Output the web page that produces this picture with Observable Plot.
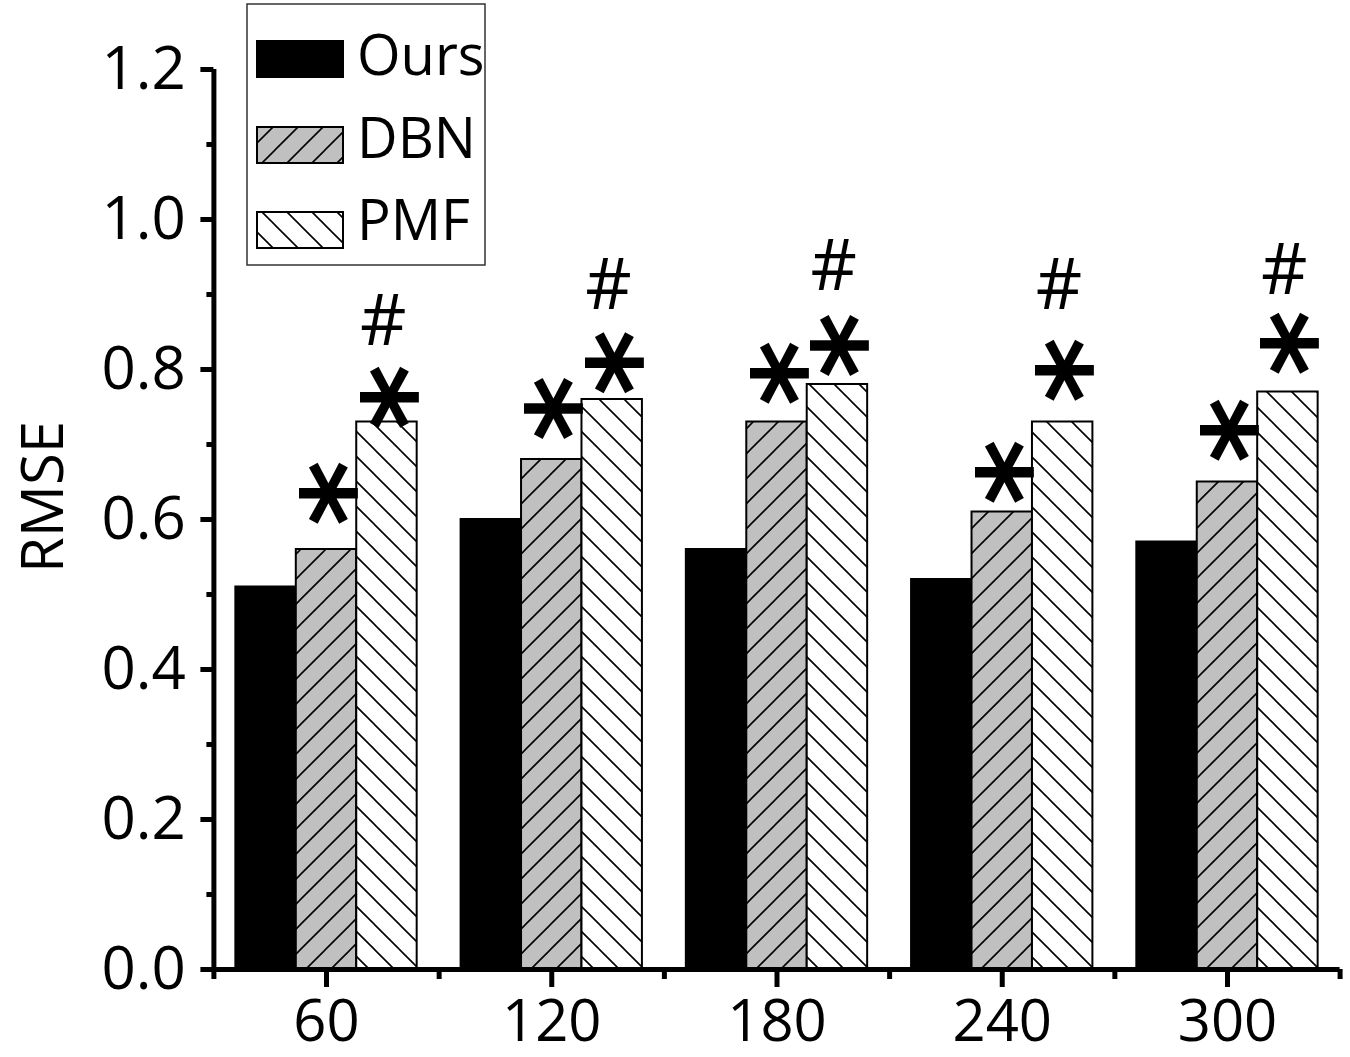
<!DOCTYPE html>
<html><head><meta charset="utf-8">
<script src="https://cdn.jsdelivr.net/npm/d3@7"></script>
<script src="https://cdn.jsdelivr.net/npm/@observablehq/plot@0.6"></script>
<style>
html,body{margin:0;padding:0;background:#fff;}
#chart svg{display:block;}
</style>
</head><body><div id="chart"></div>
<script>
// ---- data ----
const groups = [60, 120, 180, 240, 300];
const seriesNames = ["Ours", "DBN", "PMF"];
const oursValues = [0.51, 0.60, 0.56, 0.52, 0.57];
const dbnValues = [0.56, 0.68, 0.73, 0.61, 0.65];
const pmfValues = [0.73, 0.76, 0.78, 0.73, 0.77];
const yTicks = [0, 0.2, 0.4, 0.6, 0.8, 1.0, 1.2];
const yMinorTicks = [0.1, 0.3, 0.5, 0.7, 0.9, 1.1];
const xTicks = [60, 120, 180, 240, 300];
const xMinorTicks = [30, 90, 150, 210, 270, 330];
// significance marks (y-value of glyph centre)
const dbnStarY = [0.635, 0.748, 0.795, 0.663, 0.719];
const pmfStarY = [0.763, 0.809, 0.832, 0.799, 0.835];
const pmfHashY = [0.868, 0.915, 0.941, 0.915, 0.935];
const yLabel = "RMSE";

// ---- build tables ----
const barWidth = 16.1;
const seriesValues = [oursValues, dbnValues, pmfValues];
const rows = [];
seriesNames.forEach((s, si) => groups.forEach((g, gi) => {
  const off = (si - 1) * barWidth;
  rows.push({series: s, group: g, value: seriesValues[si][gi], x1: g + off - barWidth / 2, x2: g + off + barWidth / 2});
}));
const stars = [];
groups.forEach((g, gi) => {
  stars.push({x: g + 0.5, y: dbnStarY[gi], label: "*"});
  stars.push({x: g + barWidth + 0.5, y: pmfStarY[gi], label: "*"});
});
const hashes = groups.map((g, gi) => ({x: g + barWidth - 1, y: pmfHashY[gi], label: "#"}));

const font = "'Open Sans', sans-serif";
const fills = {Ours: "#000", DBN: "url(#hatchDBN)", PMF: "url(#hatchPMF)"};

const plot = Plot.plot({
  width: 1350, height: 1057,
  marginLeft: 213.4, marginRight: 10.4, marginTop: 69, marginBottom: 88,
  x: {type: "linear", domain: [30, 330]},
  y: {domain: [0, 1.2]},
  style: {fontFamily: font, fontSize: "60px", color: "#000", background: "#fff", overflow: "visible"},
  marks: [
    ...seriesNames.map(s => Plot.rectY(rows.filter(d => d.series === s), {
      x1: "x1", x2: "x2", y: "value", fill: fills[s], stroke: "#000", strokeWidth: 2
    })),
    Plot.text(stars, {x: "x", y: "y", text: "label", fontFamily: "DejaVu Sans", fontWeight: "bold",
      fontSize: 126, rotate: 90, dx: -24, fill: "#000"}),
    Plot.text(hashes, {x: "x", y: "y", text: "label", fontSize: 72, dy: 3, fill: "#000"}),
    Plot.axisY({ticks: yTicks, tickSize: 13, tickPadding: 15, tickFormat: d3.format(".1f"), strokeWidth: 5, fontSize: 60, label: null}),
    Plot.axisY({ticks: yMinorTicks, tickSize: 7, tickFormat: () => "", strokeWidth: 5, label: null}),
    Plot.axisX({ticks: xTicks, tickSize: 18, tickPadding: 12, tickFormat: d => String(d), strokeWidth: 5, fontSize: 58, label: null}),
    Plot.axisX({ticks: xMinorTicks, tickSize: 10, tickFormat: () => "", strokeWidth: 5, label: null}),
    Plot.ruleY([0], {strokeWidth: 5}),
    Plot.ruleX([30], {strokeWidth: 5})
  ]
});

const svg = d3.select(plot);
const defs = svg.insert("defs", ":first-child");
function hatch(id, bg, dir) {
  const s = 25;
  const p = defs.append("pattern").attr("id", id).attr("patternUnits", "userSpaceOnUse")
    .attr("width", s).attr("height", s);
  p.append("rect").attr("width", s).attr("height", s).attr("fill", bg);
  const d = dir > 0
    ? `M${-s/4},${s/4}L${s/4},${-s/4}M0,${s}L${s},0M${s*3/4},${s*5/4}L${s*5/4},${s*3/4}`
    : `M${-s/4},${s*3/4}L${s/4},${s*5/4}M0,0L${s},${s}M${s*3/4},${-s/4}L${s*5/4},${s/4}`;
  p.append("path").attr("d", d).attr("stroke", "#000").attr("stroke-width", 1.6).attr("fill", "none");
}
hatch("hatchDBN", "#c0c0c0", 1);
hatch("hatchPMF", "#ffffff", -1);

// y-axis title (baseline at x = 62.5, rotated)
svg.append("text").attr("transform", "translate(62.5,497) rotate(-90)")
  .attr("text-anchor", "middle")
  .style("font-family", font).style("font-size", "58px").text(yLabel);

// legend
const lg = svg.append("g");
lg.append("rect").attr("x", 247).attr("y", 4).attr("width", 238).attr("height", 261)
  .attr("fill", "#fff").attr("stroke", "#333").attr("stroke-width", 1.5);
const swY = [41, 127, 212];
const lgBase = [75, 158, 240];
seriesNames.forEach((s, i) => {
  lg.append("rect").attr("x", 257).attr("y", swY[i]).attr("width", 86).attr("height", 36)
    .attr("fill", fills[s]).attr("stroke", "#000").attr("stroke-width", 2);
  lg.append("text").attr("x", 357).attr("y", lgBase[i]).attr("text-anchor", "start")
    .style("font-family", font).style("font-size", "56px").text(s);
});

document.getElementById("chart").appendChild(plot);
</script>
</body></html>
